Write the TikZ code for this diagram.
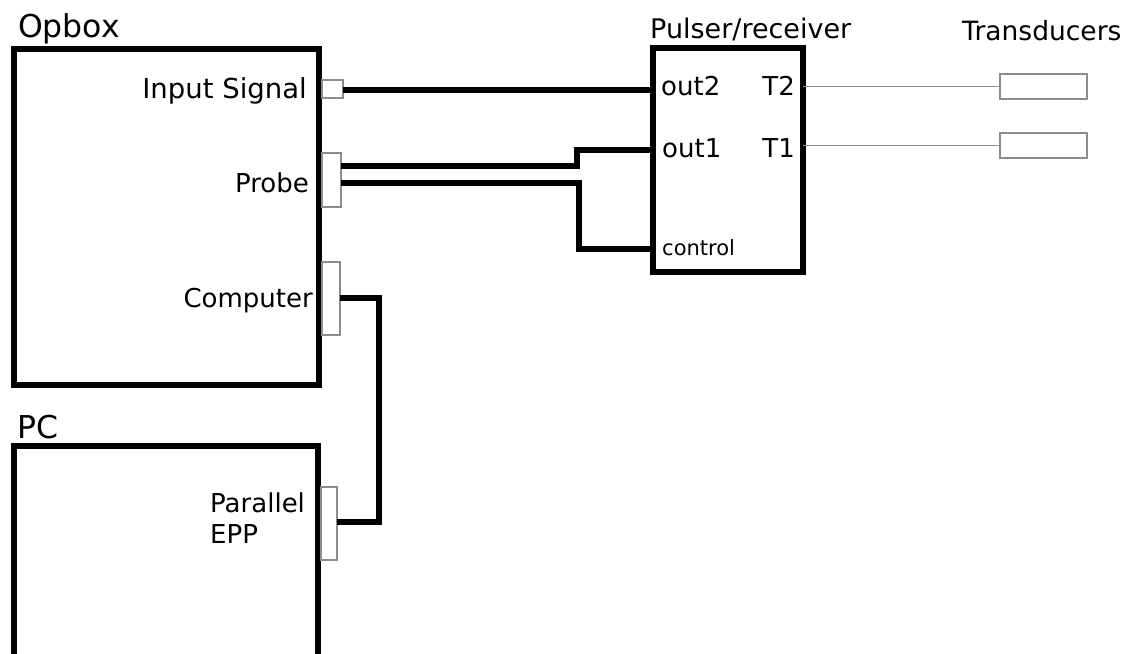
\documentclass[tikz,border=0pt]{standalone}
\usepackage{fontspec}
\setmainfont{DejaVu Sans}
\begin{document}
\begin{tikzpicture}[x=1pt,y=-1pt,
  box/.style={draw=black,line width=6.5pt,inner sep=0pt,outer sep=0pt,fill=white},
  port/.style={draw=black!45,line width=1.2pt,inner sep=0pt,outer sep=0pt,fill=white},
  wire/.style={draw=black,line width=6pt},
  thin wire/.style={draw=black!45,line width=1.3pt},
  lbl/.style={inner sep=0pt,font=\fontsize{26}{30}\selectfont},
  wide/.style={inner sep=0pt,font=\fontsize{27.5}{30}\selectfont},
  small/.style={inner sep=0pt,font=\fontsize{21}{25}\selectfont},
  title/.style={inner sep=0pt,font=\fontsize{31.5}{34}\selectfont},
  subtitle/.style={inner sep=0pt,font=\fontsize{27}{30}\selectfont},
  tdtitle/.style={inner sep=0pt,font=\fontsize{26.5}{30}\selectfont}]
\useasboundingbox[fill=white] (0,0) rectangle (1126,653);
% boxes
\node[box,minimum width=305pt,minimum height=336pt] (opbox) at (166.5,217) {};
\node[box,minimum width=304pt,minimum height=230pt] (pc) at (166,561) {};
\node[box,minimum width=150pt,minimum height=224pt] (pulser) at (728,160) {};
% ports
\node[port,minimum width=21pt,minimum height=18pt] (inconn) at (332.5,89) {};
\node[port,minimum width=19pt,minimum height=54pt] (probeconn) at (331.5,180) {};
\node[port,minimum width=18pt,minimum height=73pt] (compconn) at (331,298.5) {};
\node[port,minimum width=16pt,minimum height=73pt] (pcconn) at (329,523.5) {};
% transducers
\node[port,minimum width=87pt,minimum height=25pt] (td2) at (1043.5,86.5) {};
\node[port,minimum width=87pt,minimum height=25pt] (td1) at (1043.5,145.5) {};
% titles
\node[title,anchor=base west] (topbox) at (18,37) {Opbox};
\node[title,anchor=base west] (tpc) at (17,438) {PC};
\node[subtitle,anchor=base west] (tpulser) at (650,38) {Pulser/receiver};
\node[tdtitle,anchor=base west] (ttd) at (962,40) {Transducers};
% labels
\node[wide,anchor=base east] (linput) at (307,98) {Input Signal};
\node[lbl,anchor=base east] (lprobe) at (309,192) {Probe};
\node[lbl,anchor=base east] (lcomp) at (313,307) {Computer};
\node[lbl,anchor=base west] (lpar) at (210,512) {Parallel};
\node[lbl,anchor=base west] (lepp) at (210,543) {EPP};
\node[lbl,anchor=base west] (lout2) at (661,95) {out2};
\node[lbl,anchor=base east] (lt2) at (795,95) {T2};
\node[lbl,anchor=base west] (lout1) at (662,157) {out1};
\node[lbl,anchor=base east] (lt1) at (795,157) {T1};
\node[small,anchor=base west] (lctrl) at (662,255) {control};
% connection points
\coordinate (out2) at (pulser.west |- 0,90);
\coordinate (out1) at (pulser.west |- 0,150);
\coordinate (ctrl) at (pulser.west |- 0,249);
\coordinate (b1) at (577,166);
\coordinate (b2) at (579,183);
\coordinate (b3) at (379,298);
% wires
\draw[wire] (inconn.east |- out2) -- (out2);
\draw[wire] (probeconn.east |- b1) -- (b1) |- (out1);
\draw[wire] (probeconn.east |- b2) -- (b2) |- (ctrl);
\draw[wire] (compconn.east |- b3) -- (b3) |- (pcconn.east |- 0,522);
\draw[thin wire] (pulser.east |- td2.west) -- (td2.west);
\draw[thin wire] (pulser.east |- td1.west) -- (td1.west);
\end{tikzpicture}
\end{document}
